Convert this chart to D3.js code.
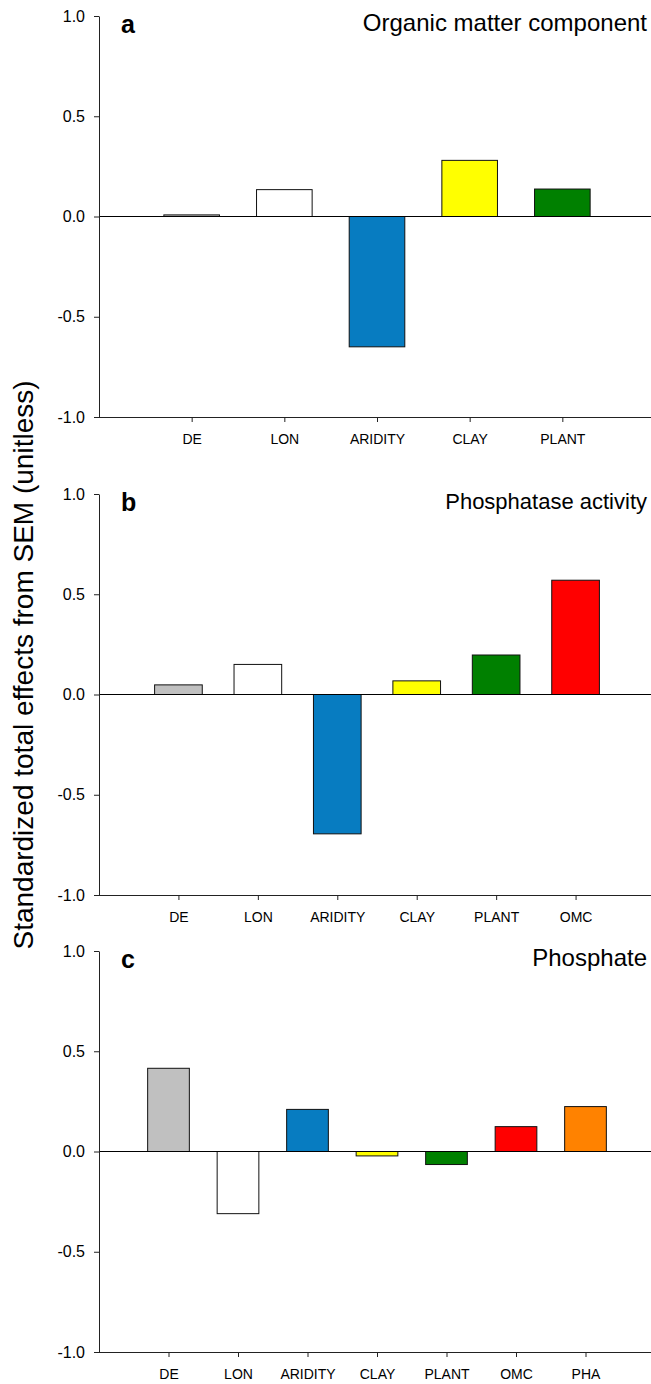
<!DOCTYPE html>
<html>
<head>
<meta charset="utf-8">
<script src="https://cdn.jsdelivr.net/npm/d3@7"></script>
<style>
  body { margin: 0; background: #fff; }
  svg text { font-family: "Liberation Sans", Arial, sans-serif; fill: #000; }
</style>
</head>
<body>
<svg id="chart" width="651" height="1384"></svg>
<script>
// categories per panel
var catsA = ["DE", "LON", "ARIDITY", "CLAY", "PLANT"];
var catsB = ["DE", "LON", "ARIDITY", "CLAY", "PLANT", "OMC"];
var catsC = ["DE", "LON", "ARIDITY", "CLAY", "PLANT", "OMC", "PHA"];

// standardized total effects
var valuesA = [0.008, 0.134, -0.65, 0.28, 0.137];
var valuesB = [0.048, 0.15, -0.695, 0.068, 0.197, 0.57];
var valuesC = [0.415, -0.31, 0.21, -0.022, -0.065, 0.124, 0.224];

var yTicks = [-1.0, -0.5, 0.0, 0.5, 1.0];

var colorMap = {
  DE: "#c0c0c0", LON: "#ffffff", ARIDITY: "#077cc1", CLAY: "#ffff00",
  PLANT: "#008000", OMC: "#ff0000", PHA: "#ff8200"
};

var svg = d3.select("#chart");

// y label shared by all panels
svg.append("text")
  .attr("transform", "translate(33,665) rotate(-90)")
  .attr("text-anchor", "middle")
  .style("font-size", "28px")
  .text("Standardized total effects from SEM (unitless)");

function drawPanel(top, letter, title, titleSize, cats, values) {
  var left = 99, bottom = top + 401;
  var y = d3.scaleLinear().domain([-1, 1]).range([bottom, top]);
  var x = d3.scaleLinear().domain([0, cats.length + 1]).range([left, 655]);
  var bw = 0.6 * (x(1) - x(0));

  var g = svg.append("g");

  // bars
  g.selectAll("rect.bar")
    .data(values)
    .enter()
    .append("rect")
    .attr("class", "bar")
    .attr("x", function(d, i) { return x(i + 1) - bw / 2; })
    .attr("y", function(d) { return y(Math.max(0, d)); })
    .attr("width", bw)
    .attr("height", function(d) { return Math.abs(y(d) - y(0)); })
    .attr("fill", function(d, i) { return colorMap[cats[i]]; })
    .attr("stroke", "#111")
    .attr("stroke-width", 1);

  // zero line
  g.append("line")
    .attr("x1", left).attr("x2", 651)
    .attr("y1", y(0)).attr("y2", y(0))
    .attr("stroke", "#000").attr("stroke-width", 1);

  // y axis
  var ya = g.append("g")
    .attr("transform", "translate(" + left + ",0)")
    .call(d3.axisLeft(y).tickValues(yTicks).tickSize(5).tickSizeOuter(0).tickPadding(9)
      .tickFormat(function(d) { return d.toFixed(1); }));
  ya.select(".domain").attr("stroke", "#222");
  ya.selectAll(".tick line").attr("stroke", "#222");
  ya.selectAll("text").style("font-size", "16px").attr("fill", "#000")
    .style("font-family", "'Liberation Sans', Arial, sans-serif");

  // x axis
  var xa = g.append("g")
    .attr("transform", "translate(0," + bottom + ")")
    .call(d3.axisBottom(x).tickValues(d3.range(1, cats.length + 1)).tickSize(5).tickSizeOuter(0).tickPadding(12)
      .tickFormat(function(d) { return cats[d - 1]; }));
  xa.select(".domain").attr("d", "M94,0.5H651").attr("stroke", "#222");
  xa.selectAll(".tick line").attr("stroke", "#222");
  xa.selectAll("text").style("font-size", "14px").attr("fill", "#000")
    .style("font-family", "'Liberation Sans', Arial, sans-serif");

  // panel letter and title
  g.append("text")
    .attr("x", 121).attr("y", top + 17)
    .style("font-size", "25px").style("font-weight", "bold")
    .text(letter);
  g.append("text")
    .attr("x", 647).attr("y", top + 15)
    .attr("text-anchor", "end")
    .style("font-size", titleSize + "px")
    .text(title);
}

drawPanel(16, "a", "Organic matter component", 24, catsA, valuesA);
drawPanel(494, "b", "Phosphatase activity", 22, catsB, valuesB);
drawPanel(951, "c", "Phosphate", 24, catsC, valuesC);
</script>
</body>
</html>
